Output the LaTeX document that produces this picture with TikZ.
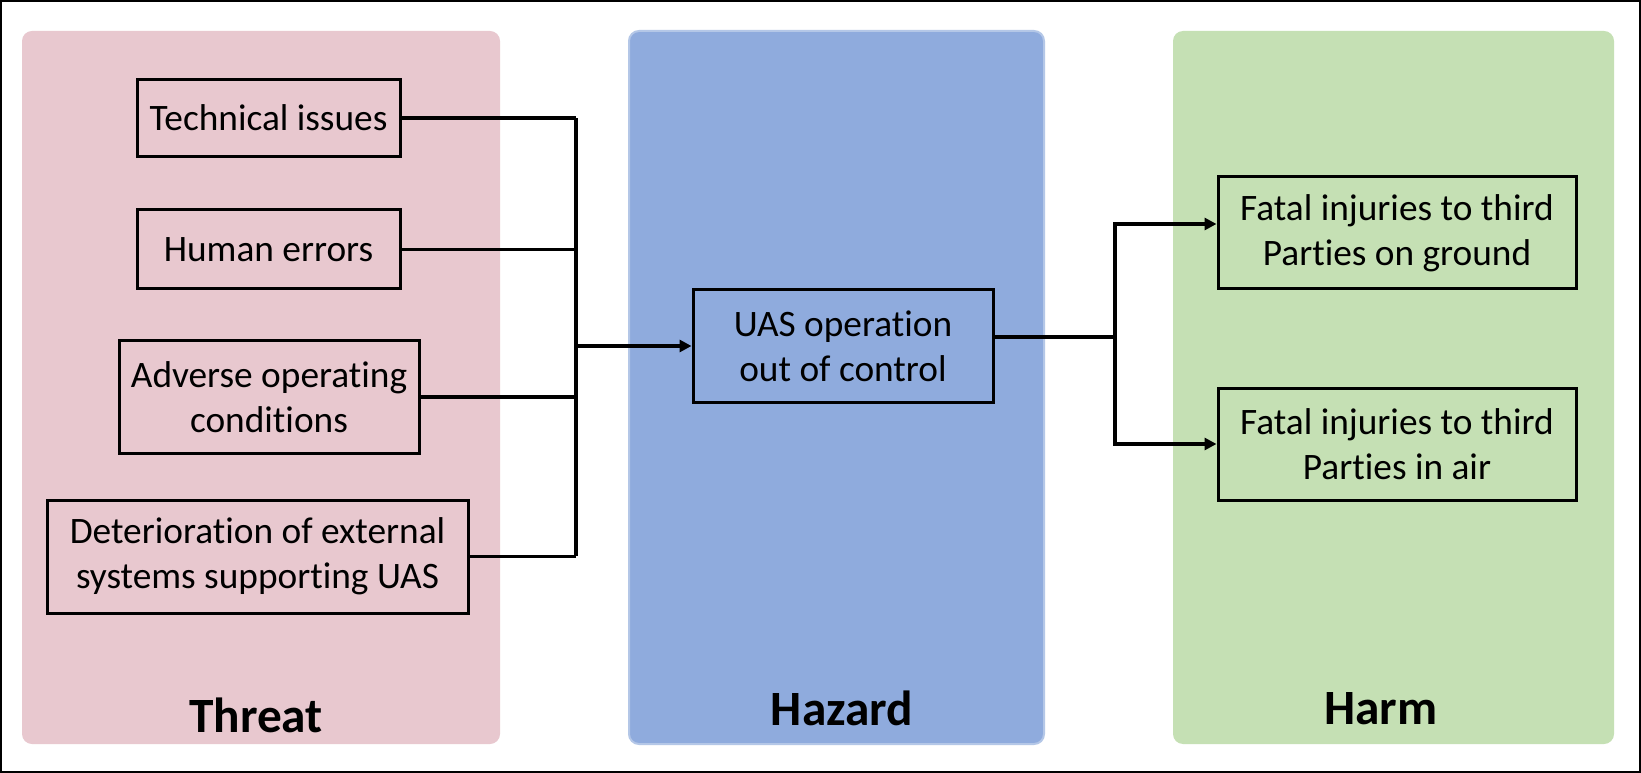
\documentclass[tikz,border=0pt]{standalone}
\usepackage{fontspec}
\setmainfont{Carlito}[Ligatures=NoCommon]
\usetikzlibrary{arrows.meta}
\definecolor{threatfill}{HTML}{E8C8CF}
\definecolor{hazardfill}{HTML}{8FABDD}
\definecolor{hazardline}{HTML}{B4C7E7}
\definecolor{harmfill}{HTML}{C5E0B4}
\tikzset{
  panel/.style={rounded corners=7.5pt, draw=none},
  box/.style={draw=black, line width=2.25pt, inner sep=0pt, align=center,
    font=\fontsize{28pt}{33.75pt}\selectfont},
  title/.style={anchor=base, font=\fontsize{37pt}{40pt}\selectfont\bfseries},
  conn/.style={line width=2.4pt},
  arr/.style={conn, -{Triangle[length=9pt,width=9pt]}}
}
\begin{document}
\begin{tikzpicture}[x=0.75pt, y=-0.75pt]
\useasboundingbox (0,0) rectangle (1641,773);
\fill[white] (0,0) rectangle (1641,773);
\draw[line width=1.5pt] (1,1) rectangle (1640,772);
% panels
\fill[panel, threatfill] (22,31) rectangle (500,744);
\filldraw[panel, fill=hazardfill, draw=hazardline, line width=1.5pt] (629,31) rectangle (1044,744);
\fill[panel, harmfill] (1173,31) rectangle (1614,744);
% titles
\node[title] (tthreat) at (256,732) {Threat};
\node[title] (thazard) at (842,725) {Hazard};
\node[title] (tharm) at (1381,724) {Harm};
% threat boxes
\node[box, minimum width=197.25pt, minimum height=57.75pt] (tech) at (268.5,118) {Technical issues};
\node[box, minimum width=197.25pt, minimum height=59.25pt] (human) at (268.5,249.5) {Human errors};
\node[box, minimum width=225pt, minimum height=84pt] (adverse) at (269,397) {Adverse operating\\conditions};
\node[box, minimum width=315.75pt, minimum height=84.75pt] (deter) at (257.5,556.5) {Deterioration of external\\systems supporting UAS};
% hazard
\node[box, minimum width=225pt, minimum height=84pt] (uas) at (843,346) {UAS operation\\out of control};
% harm
\node[box, minimum width=268.5pt, minimum height=84pt] (harmA) at (1397,233) {Fatal injuries to third\\Parties on ground};
\node[box, minimum width=268.5pt, minimum height=84pt] (harmB) at (1397,444) {Fatal injuries to third\\Parties in air};
% connectors
\coordinate (bt) at (576,117);
\coordinate (bb) at (576,557);
\coordinate (sp) at (1115,337);
\draw[conn] (tech.east) -- (tech.east -| bt);
\draw[conn] (human.east) -- (human.east -| bt);
\draw[conn] (adverse.east) -- (adverse.east -| bt);
\draw[conn] (deter.east) -- (deter.east -| bt);
\draw[conn] ([yshift=-0.9pt]bt) -- ([yshift=0.9pt]bb);
\draw[arr] (uas.west -| bt) -- (uas.west);
\draw[conn] ([yshift=6.75pt]uas.east) -- (sp);
\draw[arr] (sp) |- ([yshift=6.75pt]harmA.west);
\draw[arr] (sp) |- (harmB.west);
\end{tikzpicture}
\end{document}
